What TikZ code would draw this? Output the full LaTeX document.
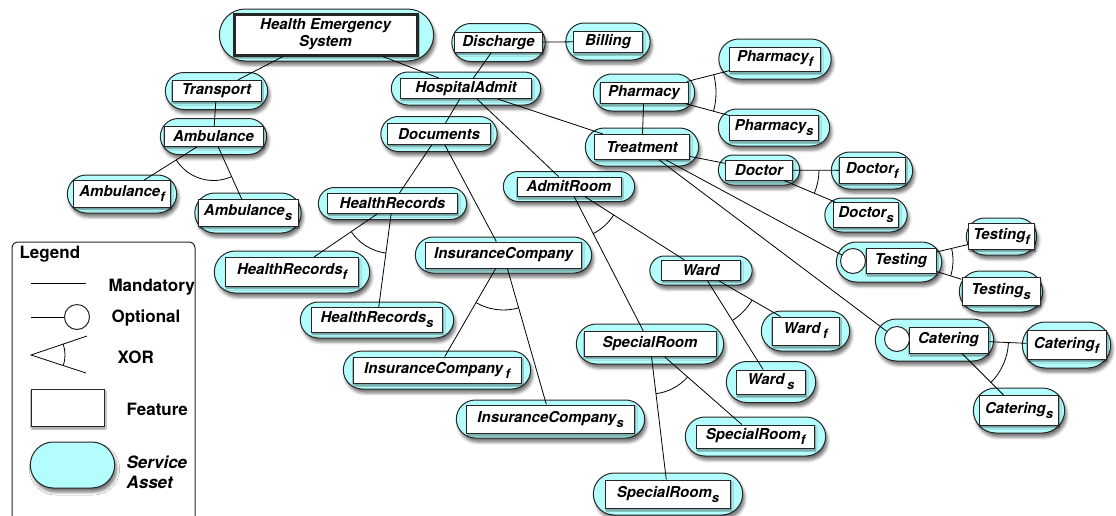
\documentclass[tikz,border=0pt]{standalone}
\usepackage{fontspec}
\setmainfont{TeX Gyre Heros}
\definecolor{svc}{HTML}{B4FDFD}
\usetikzlibrary{shapes.misc, shadows.blur, angles}
\newcommand{\featfont}{\fontsize{15}{17}\selectfont\bfseries\itshape}
\newcommand{\legfont}{\fontsize{17}{20}\selectfont\bfseries}
\newcommand{\sub}[1]{\raisebox{-5pt}{\fontsize{13}{13}\selectfont #1}}
\tikzset{asset/.style={rounded rectangle, draw=black!85, line width=1pt, fill=svc, blur shadow={shadow xshift=2pt, shadow yshift=-4pt, shadow blur radius=3pt, shadow opacity=55}}}
\tikzset{feature/.style={rectangle, draw=black!85, line width=1pt, fill=white, inner sep=0pt, font=\featfont, blur shadow={shadow xshift=1pt, shadow yshift=-2pt, shadow blur radius=1.5pt, shadow opacity=45}}}
\tikzset{optc/.style={circle, draw=black!85, line width=1pt, fill=white, minimum size=25pt, inner sep=0pt}}
\tikzset{link/.style={line width=.8pt, black}}
\tikzset{xorarc/.style={draw, line width=.8pt, angle radius=#1}}
\newcommand{\asset}[8]{\node[asset, minimum width=#6pt, minimum height=#7pt] (#1-a) at (#2,#3) {};
 \node[feature, minimum width=#4pt, minimum height=#5pt] (#1) at (#2,#3) {#8}}

\begin{document}
\begin{tikzpicture}[x=1pt, y=-1pt]
		\useasboundingbox (0,0) rectangle (1116,515);

		% Root
		\node[asset, minimum width=221pt, minimum height=52pt] (hes-a) at (326.5,35) {};
		\node[feature, line width=3pt, minimum width=183pt, minimum height=41pt, align=center] (hes) at (325.5,34.5) {Health Emergency\\System};

		% Service assets
		\asset{trans}{216.5}{91}{89}{21}{109}{37}{Transport};
		\asset{amb}{213.5}{136.5}{99}{20}{113}{36}{Ambulance};
		\asset{ambf}{122}{194}{97}{27}{116}{38}{Ambulance\sub{f}};
		\asset{ambs}{248}{213}{100}{27}{113}{40}{Ambulance\sub{s}};
		\asset{disch}{498.5}{42.5}{88}{20}{100}{38}{Discharge};
		\asset{bill}{608}{41.5}{69}{21}{91}{37}{Billing};
		\asset{hadmit}{466}{88.5}{131}{20}{156}{33}{HospitalAdmit};
		\asset{docu}{439}{134}{103}{21}{123}{35}{Documents};
		\asset{pharm}{644}{92.5}{88}{21}{108}{37}{Pharmacy};
		\asset{treat}{642}{147}{95}{25}{120}{38}{Treatment};
		\asset{phf}{775}{59}{91}{24}{119}{40}{Pharmacy\sub{f}};
		\asset{phs}{774}{127.5}{89}{25}{118}{37}{Pharmacy\sub{s}};
		\asset{doctor}{759}{170}{67}{20}{88}{30}{Doctor};
		\asset{doctorf}{872}{170.5}{66}{26}{88}{37}{Doctor\sub{f}};
		\asset{doctors}{866}{215}{65}{25}{89}{34}{Doctor\sub{s}};
		\asset{admit}{569}{186.5}{104}{19}{138}{30}{AdmitRoom};
		\asset{hrec}{392.5}{203.5}{130}{20}{155}{32}{HealthRecords};
		\asset{hrf}{292}{272}{133}{29}{162}{42}{HealthRecords\sub{f}};
		\asset{hrs}{377}{320}{131}{25}{160}{36}{HealthRecords\sub{s}};
		\asset{insco}{503.5}{255}{156}{26}{183}{36}{InsuranceCompany};
		\asset{icf}{437}{370}{168}{26}{194}{38}{InsuranceCompany\,\sub{f}};
		\asset{ics}{550.5}{419}{168}{28}{195}{38}{InsuranceCompany\sub{s}};
		\asset{ward}{701}{270.5}{79}{20}{109}{29}{Ward};
		\asset{wardf}{805.5}{331}{67}{28}{95}{40}{Ward\,\sub{f}};
		\asset{wards}{771}{382}{69}{24}{96}{41}{Ward\,\sub{s}};
		\asset{sroom}{650}{344}{132}{25}{154}{40}{SpecialRoom};
		\asset{srf}{755.5}{436.5}{118}{23}{147}{39}{SpecialRoom\sub{f}};
		\asset{srs}{668}{494}{125}{28}{156}{42}{SpecialRoom\sub{s}};
		\asset{testf}{1001.5}{236.5}{66}{26}{77}{37}{Testing\sub{f}};
		\asset{tests}{1001}{291.5}{78}{28}{90}{41}{Testing\sub{s}};
		\asset{catf}{1066.5}{345}{79}{29}{95}{46}{Catering\sub{f}};
		\asset{cats}{1019}{410.5}{79}{30}{98}{45}{Catering\sub{s}};

		%% Optional ones
		\node[asset, minimum width=112pt, minimum height=40pt] (testing-a) at (889,262) {};
		\node[feature, minimum width=70pt, minimum height=25pt] (testing) at (901,260.5) {Testing};
		\node[optc] (testc) at (853,261) {};
		\node[asset, minimum width=125pt, minimum height=42pt] (catering-a) at (934.5,340) {};
		\node[feature, minimum width=79pt, minimum height=26pt] (catering) at (948.5,340) {Catering};
		\node[optc] (catc) at (897,339) {};

		% Links
		\draw[link] (hes) -- (trans);
		\draw[link] (hes) -- (hadmit);
		\draw[link] (trans) -- (amb);
		\draw[link] (amb) -- (ambf);
		\draw[link] (amb) -- (ambs);
		\draw[link] (hadmit) -- (disch);
		\draw[link] (disch) -- (bill);
		\draw[link] (hadmit) -- (docu);
		\draw[link] (hadmit) -- (admit);
		\draw[link] (hadmit) -- (treat);
		\draw[link] (docu) -- (hrec);
		\draw[link] (docu) -- (insco);
		\draw[link] (hrec) -- (hrf);
		\draw[link] (hrec) -- (hrs);
		\draw[link] (insco) -- (icf);
		\draw[link] (insco) -- (ics);
		\draw[link] (admit) -- (ward);
		\draw[link] (admit) -- (sroom);
		\draw[link] (ward) -- (wardf);
		\draw[link] (ward) -- (wards);
		\draw[link] (sroom) -- (srf);
		\draw[link] (sroom) -- (srs);
		\draw[link] (pharm) -- (treat);
		\draw[link] (pharm) -- (phf);
		\draw[link] (pharm) -- (phs);
		\draw[link] (treat) -- (doctor);
		\draw[link] (doctor) -- (doctorf);
		\draw[link] (doctor) -- (doctors);
		\draw[link] (treat) -- (testc);
		\draw[link] (treat) -- (catc);
		\draw[link] (testing) -- (testf);
		\draw[link] (testing) -- (tests);
		\draw[link] (catering) -- (catf);
		\draw[link] (catering) -- (cats);

		% XOR arcs
		\pic[xorarc=44pt] {angle=ambf--amb--ambs};
		\pic[xorarc=50pt] {angle=hrf--hrec--hrs};
		\pic[xorarc=55pt] {angle=icf--insco--ics};
		\pic[xorarc=53pt] {angle=sroom--admit--ward};
		\pic[xorarc=59pt] {angle=wards--ward--wardf};
		\pic[xorarc=50pt] {angle=srs--sroom--srf};
		\pic[xorarc=72pt] {angle=phs--pharm--phf};
		\pic[xorarc=60pt] {angle=doctors--doctor--doctorf};
		\pic[xorarc=52pt] {angle=tests--testing--testf};
		\pic[xorarc=60pt] {angle=cats--catering--catf};

		% Legend
		\draw[line width=1pt, black!85, fill=white, rounded corners=6pt] (12,242) rectangle (195,535);
		\node[anchor=west, font=\legfont] (lgtitle) at (16,254) {Legend};
		\coordinate (lgm1) at (31,283);
		\coordinate (lgm2) at (86,283);
		\draw[link] (lgm1) -- (lgm2);
		\node[anchor=west, font=\legfont] (lgmand) at (105,287) {Mandatory};
		\coordinate (lgo) at (31,317);
		\node[optc] (lgoc) at (77,317) {};
		\draw[link] (lgo) -- (lgoc);
		\node[anchor=west, font=\legfont] (lgopt) at (108,318) {Optional};
		\coordinate (lgx) at (31,355);
		\coordinate (lgxa) at (87,336);
		\coordinate (lgxb) at (86,373);
		\draw[link] (lgxa) -- (lgx) -- (lgxb);
		\pic[xorarc=34pt] {angle=lgxb--lgx--lgxa};
		\node[anchor=west, font=\legfont] (lgxor) at (114,357) {XOR};
		\node[feature, minimum width=73pt, minimum height=37pt] (lgfeat) at (67.5,407.5) {};
		\node[anchor=west, font=\legfont] (lgfeatt) at (123,409) {Feature};
		\node[asset, minimum width=91pt, minimum height=46pt] (lgasset) at (72.5,465) {};
		\node[anchor=west, font=\legfont\itshape, align=left] (lgassett) at (123,472) {Service\\Asset};
	\end{tikzpicture}
\end{document}
